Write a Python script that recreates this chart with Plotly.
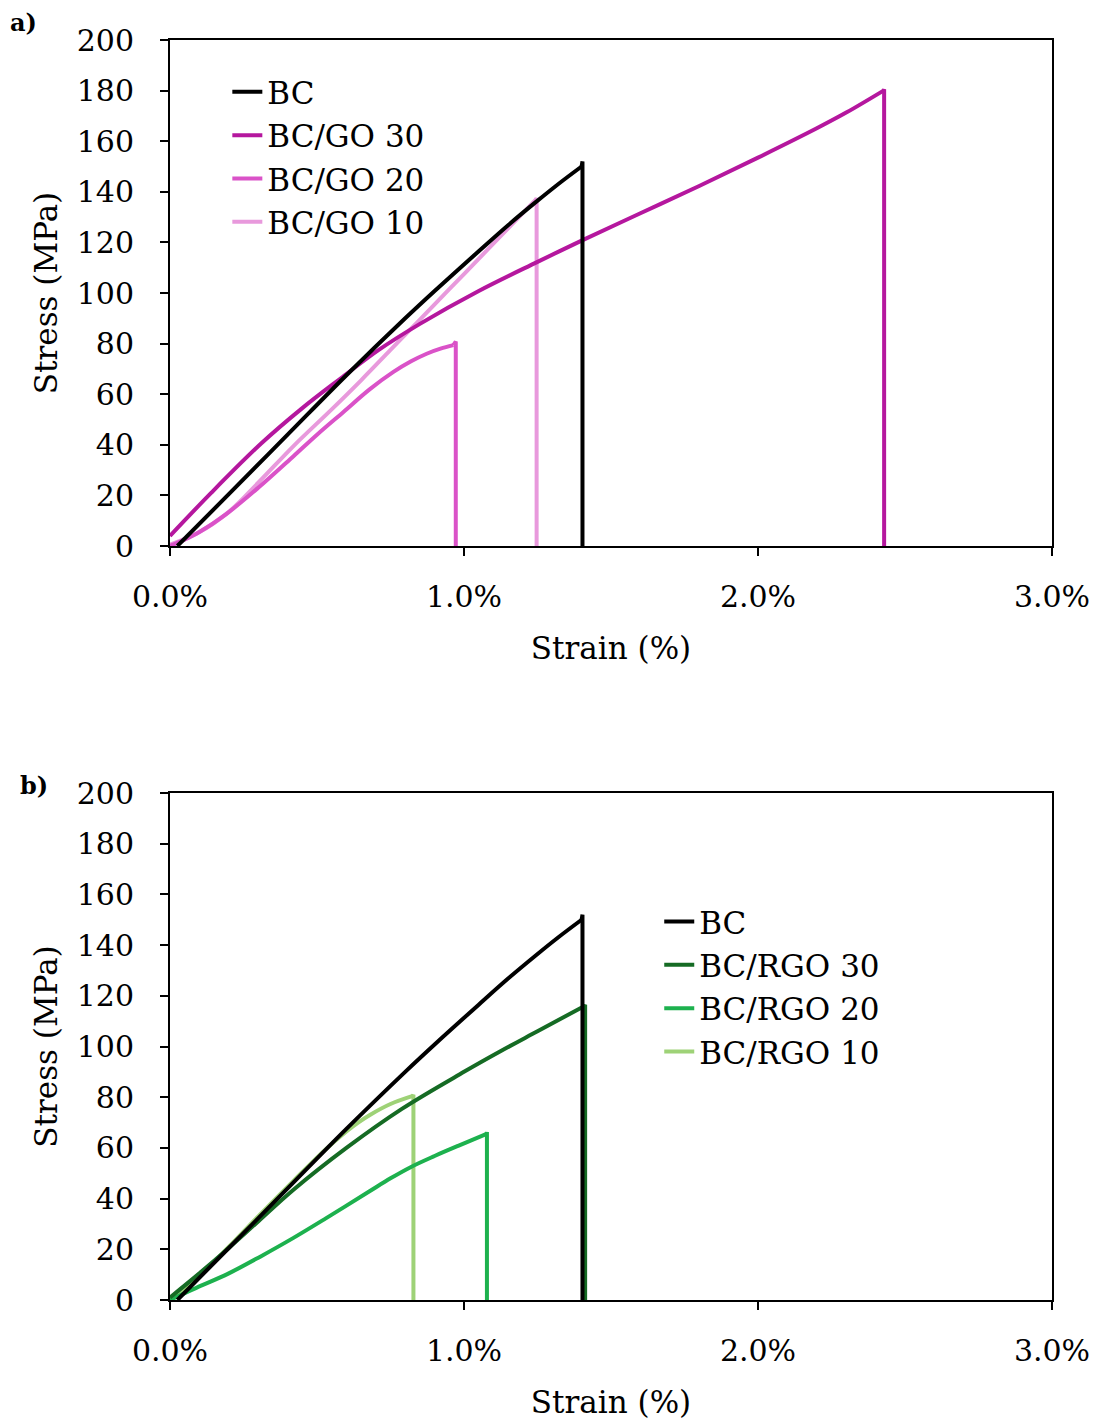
import plotly.graph_objects as go

# ---------------- data (strain in %, stress in MPa) ----------------
# loading curves; each specimen then breaks vertically at its "break" point
bc_strain = [0.025, 0.2, 0.4, 0.6, 0.8, 0.9, 1.05, 1.15, 1.245, 1.32, 1.40]
bc_stress = [0, 20.5, 44, 67.5, 90, 100.8, 116.5, 126.8, 136, 143, 150]
bc_break = [1.403, 152]

go30_strain = [0, 0.14, 0.31, 0.45, 0.58, 0.71, 0.85, 1.05, 1.25, 1.40, 1.6, 1.8, 2.0, 2.2, 2.3, 2.427]
go30_stress = [4, 21, 40.5, 54.5, 66.2, 77.5, 87.8, 100.8, 112.3, 120.7, 131.5, 142.3, 153.5, 165.1, 171.3, 180]
go30_break = [2.429, 180.5]

go20_strain = [0, 0.05, 0.1, 0.19, 0.3, 0.42, 0.5, 0.59, 0.68, 0.76, 0.82, 0.873, 0.92, 0.964]
go20_stress = [0, 2.5, 5.5, 12.5, 23, 35.5, 44, 53, 62, 68.8, 73, 76, 78, 79.4]
go20_break = [0.972, 80.8]

go10_strain = [0, 0.1, 0.2, 0.3, 0.42, 0.55, 0.65, 0.75, 0.85, 0.95, 1.05, 1.15, 1.245]
go10_stress = [0.5, 5.5, 13.5, 25, 39.5, 54, 65.5, 77.5, 89.5, 101.5, 113.5, 125.5, 137]
go10_break = [1.247, 137.5]

rgo30_strain = [0, 0.1, 0.2, 0.3, 0.42, 0.6, 0.79, 1.0, 1.13, 1.25, 1.41]
rgo30_stress = [1, 10.5, 20.5, 31, 43.5, 60, 75.5, 90, 98.5, 106, 116]
rgo30_break = [1.412, 116.5]

rgo20_strain = [0, 0.08, 0.2, 0.31, 0.42, 0.53, 0.68, 0.75, 0.82, 0.9, 0.98, 1.077]
rgo20_stress = [0, 4.3, 10.5, 17.3, 24.5, 32.2, 43, 48, 52.5, 56.8, 60.8, 65.5]
rgo20_break = [1.078, 66.3]

rgo10_strain = [0, 0.1, 0.2, 0.3, 0.42, 0.53, 0.6, 0.64, 0.68, 0.75, 0.826]
rgo10_stress = [0, 9.5, 21, 33, 47, 59.5, 66.5, 70, 73, 77.3, 80.5]
rgo10_break = [0.828, 81]

x_tickvals = [0, 1, 2, 3]
x_ticktext = ["0.0%", "1.0%", "2.0%", "3.0%"]
y_tickvals = list(range(0, 201, 20))

FONT = "DejaVu Serif"
LW = 4

fig = go.Figure()

top = [
    ("BC", bc_strain, bc_stress, bc_break, "#000000"),
    ("BC/GO 30", go30_strain, go30_stress, go30_break, "#B5179E"),
    ("BC/GO 20", go20_strain, go20_stress, go20_break, "#DA52C8"),
    ("BC/GO 10", go10_strain, go10_stress, go10_break, "#E899DC"),
]
bottom = [
    ("BC", bc_strain, bc_stress, bc_break, "#000000"),
    ("BC/RGO 30", rgo30_strain, rgo30_stress, rgo30_break, "#156B24"),
    ("BC/RGO 20", rgo20_strain, rgo20_stress, rgo20_break, "#1DB14E"),
    ("BC/RGO 10", rgo10_strain, rgo10_stress, rgo10_break, "#9ED277"),
]


def add_series(series, xa, ya, leg, grp):
    for name, xs, ys, brk, col in reversed(series):
        g = grp + name
        fig.add_trace(go.Scatter(x=xs, y=ys, name=name, mode="lines",
                                 line=dict(color=col, width=LW, shape="spline", smoothing=1.0),
                                 xaxis=xa, yaxis=ya, legend=leg, legendgroup=g))
        fig.add_trace(go.Scatter(x=[xs[-1], brk[0], brk[0]], y=[ys[-1], brk[1], 0],
                                 name=name, mode="lines",
                                 line=dict(color=col, width=LW),
                                 xaxis=xa, yaxis=ya, legend=leg, legendgroup=g,
                                 showlegend=False))


add_series(top, "x", "y", "legend", "a_")
add_series(bottom, "x2", "y2", "legend2", "b_")

axis_common = dict(showline=True, linecolor="black", linewidth=2, mirror=True,
                   showgrid=False, zeroline=False, ticks="outside", ticklen=8,
                   tickwidth=2, tickcolor="black", automargin=False,
                   tickfont=dict(family=FONT, size=30, color="black"))

xcommon = dict(axis_common, range=[0, 3], tickvals=x_tickvals, ticktext=x_ticktext,
               ticklabelstandoff=15,
               title=dict(text="Strain (%)", font=dict(family=FONT, size=31, color="black"), standoff=24))
ycommon = dict(axis_common, range=[0, 200], tickvals=y_tickvals, ticklabelstandoff=20,
               title=dict(text="Stress (MPa)", font=dict(family=FONT, size=31, color="black"), standoff=10))

H0 = 1420 - 40 - 120
top_dom = [(1300 - 546) / H0, 1.0]
bot_dom = [0.0, (1300 - 793) / H0]

fig.update_layout(
    width=1099, height=1420,
    margin=dict(l=170, r=47, t=40, b=120),
    paper_bgcolor="white", plot_bgcolor="white",
    font=dict(family=FONT, color="black"),
    xaxis=dict(xcommon, domain=[0, 1], anchor="y"),
    yaxis=dict(ycommon, domain=top_dom, anchor="x"),
    xaxis2=dict(xcommon, domain=[0, 1], anchor="y2"),
    yaxis2=dict(ycommon, domain=bot_dom, anchor="x2"),
    legend=dict(x=0.065, y=0.98, xanchor="left", yanchor="top",
                font=dict(family=FONT, size=31, color="black"),
                bgcolor="rgba(0,0,0,0)", traceorder="reversed", tracegroupgap=0),
    legend2=dict(x=0.5547, y=0.3215, xanchor="left", yanchor="top",
                 font=dict(family=FONT, size=31, color="black"),
                 bgcolor="rgba(0,0,0,0)", traceorder="reversed", tracegroupgap=0),
    showlegend=True,
    annotations=[
        dict(text="<b>a)</b>", xref="paper", yref="paper", x=-0.184, y=1.014,
             xanchor="left", yanchor="middle", showarrow=False,
             font=dict(family=FONT, size=24, color="black")),
        dict(text="<b>b)</b>", xref="paper", yref="paper", x=-0.172, y=0.4087,
             xanchor="left", yanchor="middle", showarrow=False,
             font=dict(family=FONT, size=24, color="black")),
    ],
)

fig.write_html("out.html")
